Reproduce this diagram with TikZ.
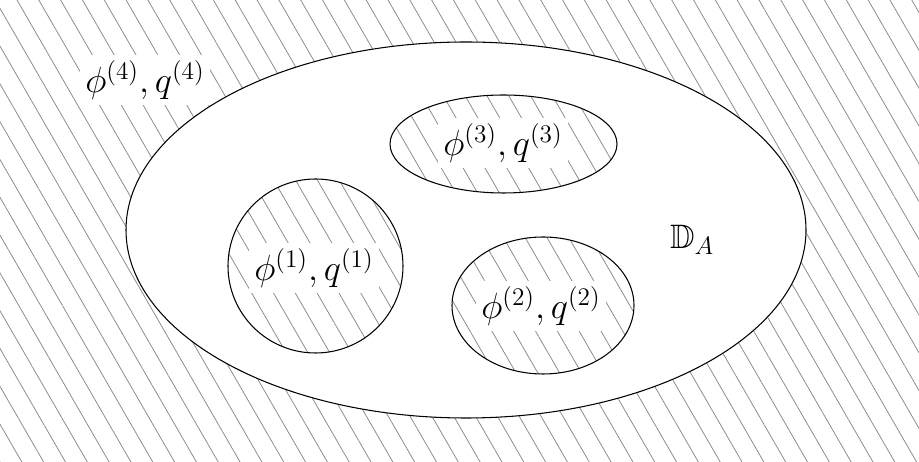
\documentclass[tikz,border=0pt]{standalone}
\usepackage{amsmath,amssymb}
\usetikzlibrary{patterns.meta}

\begin{document}
\begin{tikzpicture}[
  hatch/.style={pattern={Lines[angle=-60, distance=0.378cm, line width=0.45pt]}, pattern color=gray!90},
  rim/.style={draw, line width=0.6pt},
  lbl/.style={fill=white, inner sep=3pt, font=\fontsize{19.3}{23}\selectfont}
]
\useasboundingbox (0,0) rectangle (18.38,9.24);
\fill[hatch] (0,0) rectangle (18.38,9.24);
% domain D_A
\fill[white] (9.32,4.64) ellipse [x radius=6.8, y radius=3.76];
\draw[rim] (9.32,4.64) ellipse [x radius=6.8, y radius=3.76];
% inclusions
\fill[hatch] (10.07,6.36) ellipse [x radius=2.27, y radius=0.98];
\fill[hatch] (6.31,3.92) ellipse [x radius=1.75, y radius=1.74];
\fill[hatch] (10.86,3.13) ellipse [x radius=1.82, y radius=1.37];
\draw[rim] (10.07,6.36) ellipse [x radius=2.27, y radius=0.98];
\draw[rim] (6.31,3.92) ellipse [x radius=1.75, y radius=1.74];
\draw[rim] (10.86,3.13) ellipse [x radius=1.82, y radius=1.37];

\node[lbl] (p4) at (2.9,7.64) {$\phi^{(4)}, q^{(4)}$};
\node[lbl] (p3) at (10.06,6.38) {$\phi^{(3)}, q^{(3)}$};
\node[lbl] (p1) at (6.28,3.88) {$\phi^{(1)}, q^{(1)}$};
\node[lbl] (p2) at (10.82,3.12) {$\phi^{(2)}, q^{(2)}$};
\node[font=\fontsize{19.3}{23}\selectfont] (da) at (13.84,4.44) {$\mathbb{D}_A$};
\end{tikzpicture}
\end{document}
